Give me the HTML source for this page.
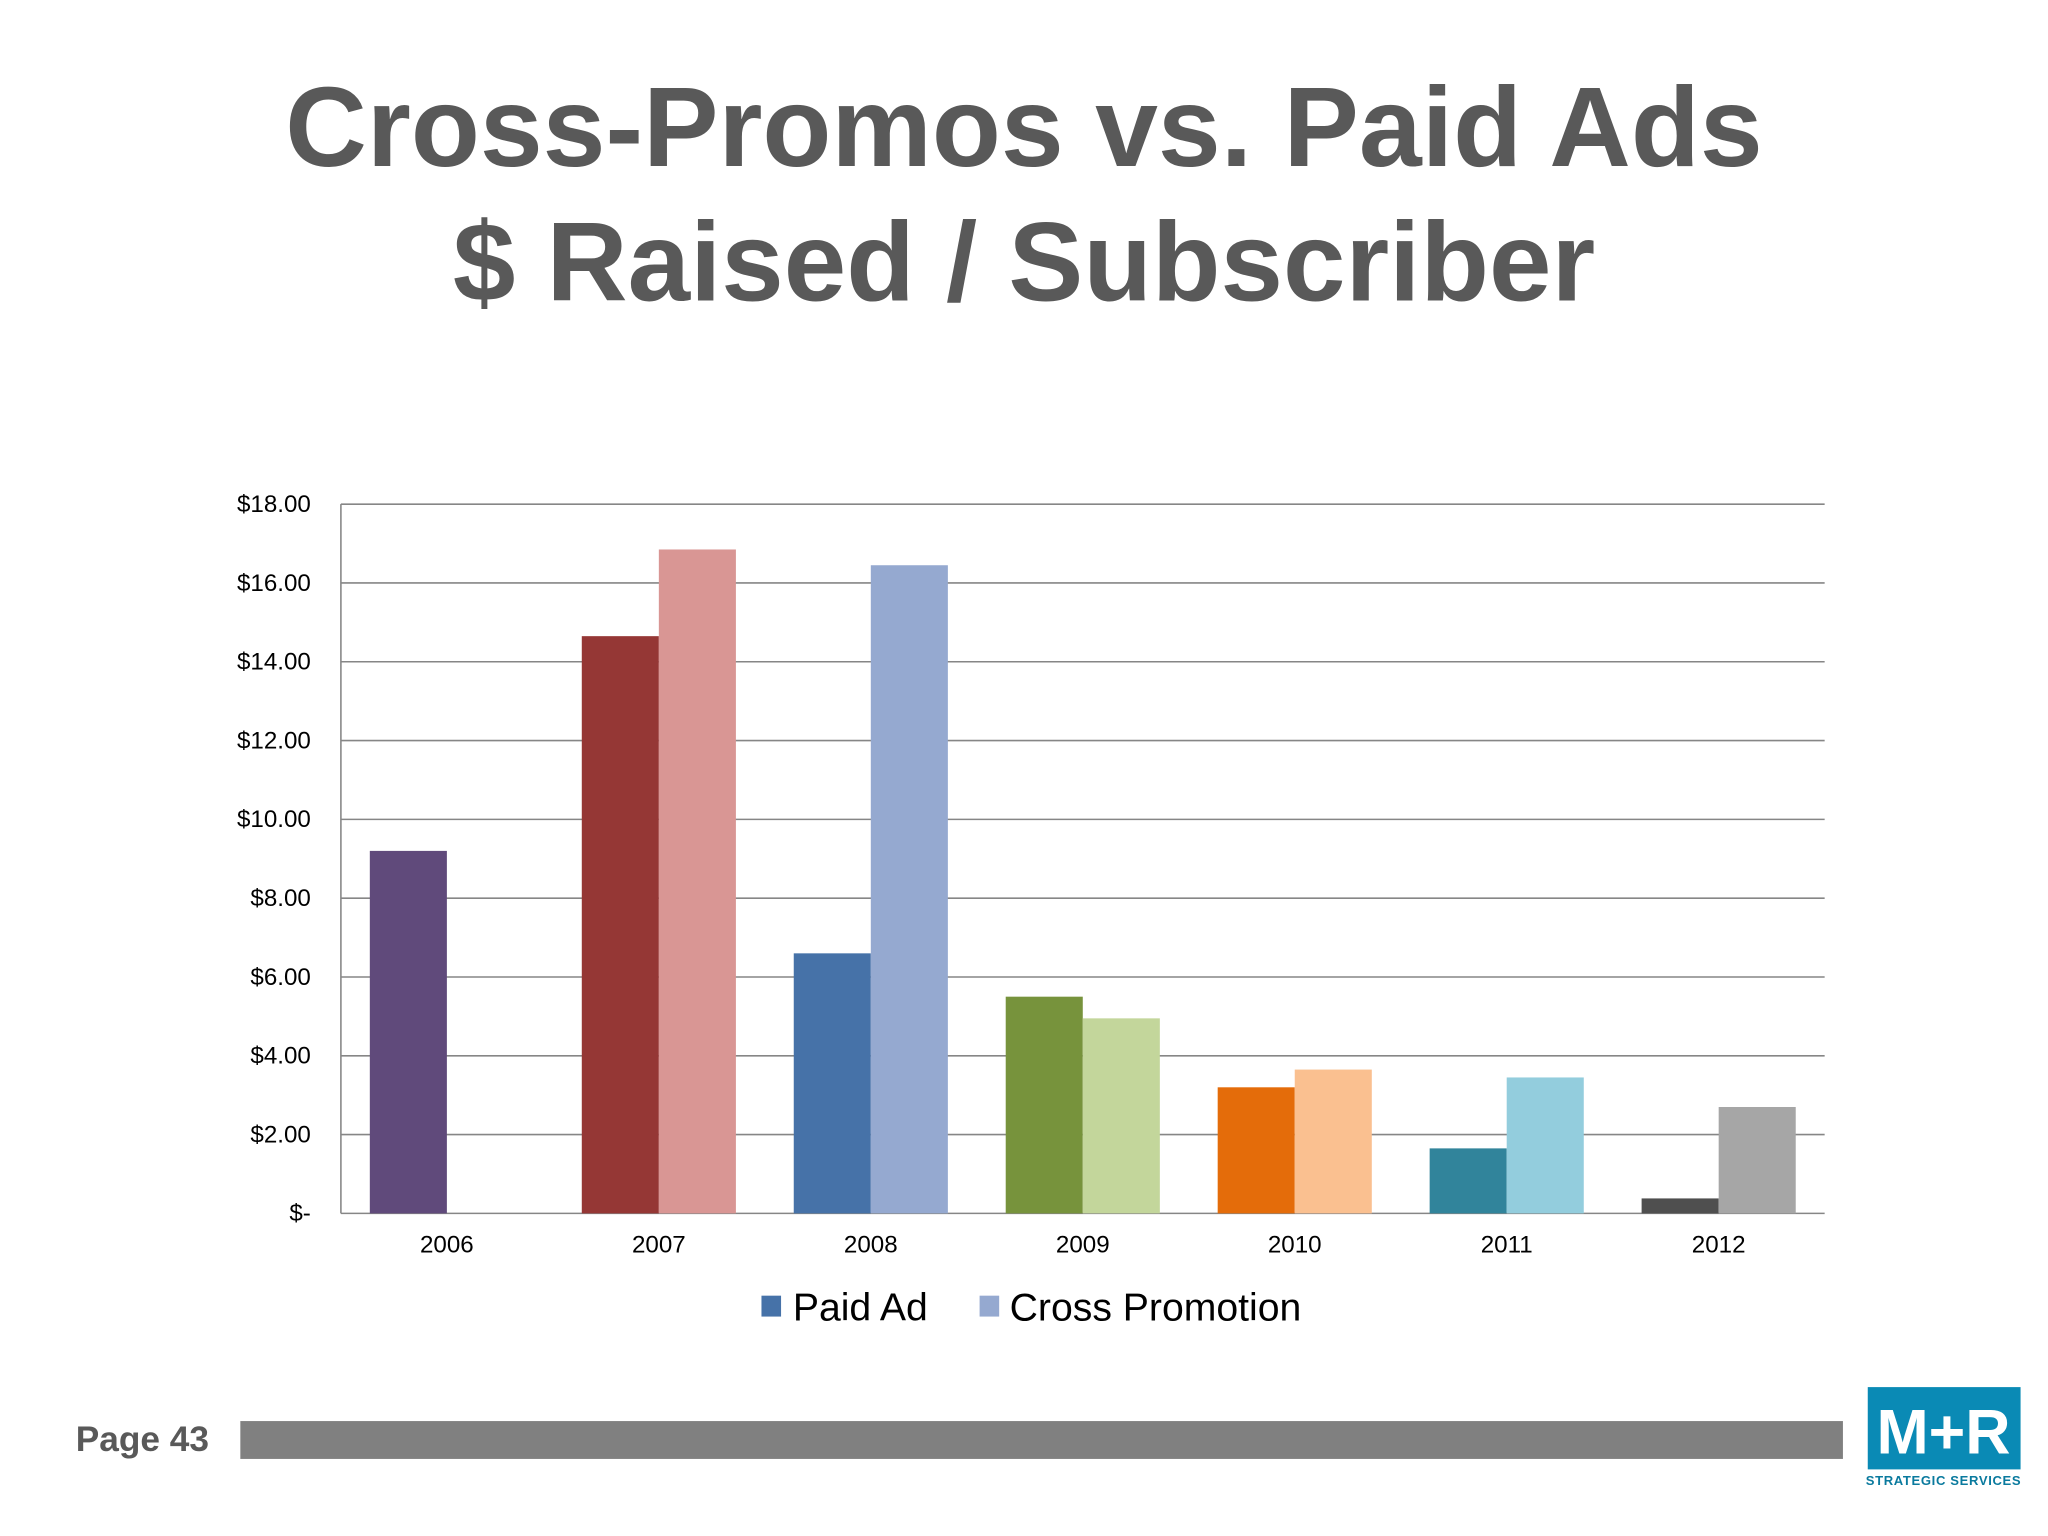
<!DOCTYPE html>
<html><head><meta charset="utf-8"><style>
html,body{margin:0;padding:0;background:#fff;width:2048px;height:1536px;overflow:hidden}
svg{display:block;font-family:"Liberation Sans",Arial,sans-serif}
</style></head><body>
<svg id="chart" width="2048" height="1536" viewBox="0 0 1568 1176" xmlns="http://www.w3.org/2000/svg">
<rect width="1568" height="1176" fill="#fff"/>
<text x="784" y="127" text-anchor="middle" font-size="86.5" font-weight="bold" fill="#595959">Cross-Promos vs. Paid Ads</text>
<text x="784" y="230" text-anchor="middle" font-size="86" font-weight="bold" fill="#595959">$ Raised / Subscriber</text>
<g id="grid"></g>
<g id="bars"></g>
<g id="xlabels"></g>
<g>
<rect x="583" y="992" width="15" height="16" fill="#4672a8"/>
<text x="607" y="1011" font-size="30" fill="#000">Paid Ad</text>
<rect x="750" y="992" width="15" height="16" fill="#95a9d0"/>
<text x="773" y="1011" font-size="30" fill="#000">Cross Promotion</text>
</g>
<text x="58" y="1111" font-size="27" font-weight="bold" fill="#595959">Page 43</text>
<rect x="184" y="1088" width="1227" height="29" fill="#808080"/>
<g>
<rect x="1430" y="1062" width="117" height="63" fill="#0a8ab5"/>
<text x="1488" y="1113" text-anchor="middle" font-size="48" font-weight="bold" fill="#fff">M+R</text>
<text x="1488" y="1137" text-anchor="middle" font-size="10" font-weight="bold" fill="#0a7a9e" letter-spacing="0.5">STRATEGIC SERVICES</text>
</g>
</svg>
<script>
const categories=["2006","2007","2008","2009","2010","2011","2012"];
const paidAd=[9.2,14.65,6.6,5.5,3.2,1.65,0.38];
const crossPromo=[0,16.85,16.45,4.95,3.65,3.45,2.7];
const yTicks=[0,2,4,6,8,10,12,14,16,18];
const yTickLabels=["$-","$2.00","$4.00","$6.00","$8.00","$10.00","$12.00","$14.00","$16.00","$18.00"];
const paidColors=["#604a7b","#953735","#4672a8","#77933c","#e46c0a","#31849b","#4f4f4f"];
const crossColors=["#bfb1d0","#d99694","#95a9d0","#c3d69b","#fac090","#93cddd","#a6a6a6"];
const NS="http://www.w3.org/2000/svg";
const L=261,R=1397,T=386,B=929,ymax=18;
const y=v=>B-(v/ymax)*(B-T);
const bw=(R-L)/categories.length;
const xc=i=>L+bw*(i+0.5);
const barW=59;
function mk(tag,attrs,parent){const e=document.createElementNS(NS,tag);for(const k in attrs)e.setAttribute(k,attrs[k]);parent.appendChild(e);return e;}
const grid=document.getElementById('grid');
yTicks.forEach((t,i)=>{
 const ln=mk('line',{x1:L,x2:R,y1:y(t),y2:y(t),stroke:'#868686','stroke-width':1.2},grid);
 
 
 const tx=mk('text',{x:238,y:y(t)+6,'text-anchor':'end','font-size':18.5,fill:'#000'},grid);
 tx.textContent=yTickLabels[i];
 
 
});
const ax=mk('line',{x1:L,x2:L,y1:T,y2:B,stroke:'#868686','stroke-width':1.2},grid);


const bars=document.getElementById('bars'),xl=document.getElementById('xlabels');
categories.forEach((c,i)=>{
 const p=mk('rect',{x:xc(i)-barW,y:y(paidAd[i]),width:barW,height:B-y(paidAd[i]),fill:paidColors[i]},bars);
 
 
 const q=mk('rect',{x:xc(i),y:y(crossPromo[i]),width:barW,height:B-y(crossPromo[i]),fill:crossColors[i]},bars);
 
 
 const t=mk('text',{x:xc(i),y:959,'text-anchor':'middle','font-size':18.5,fill:'#000'},xl);
 t.textContent=c;
 
 
});
</script>
</body></html>
